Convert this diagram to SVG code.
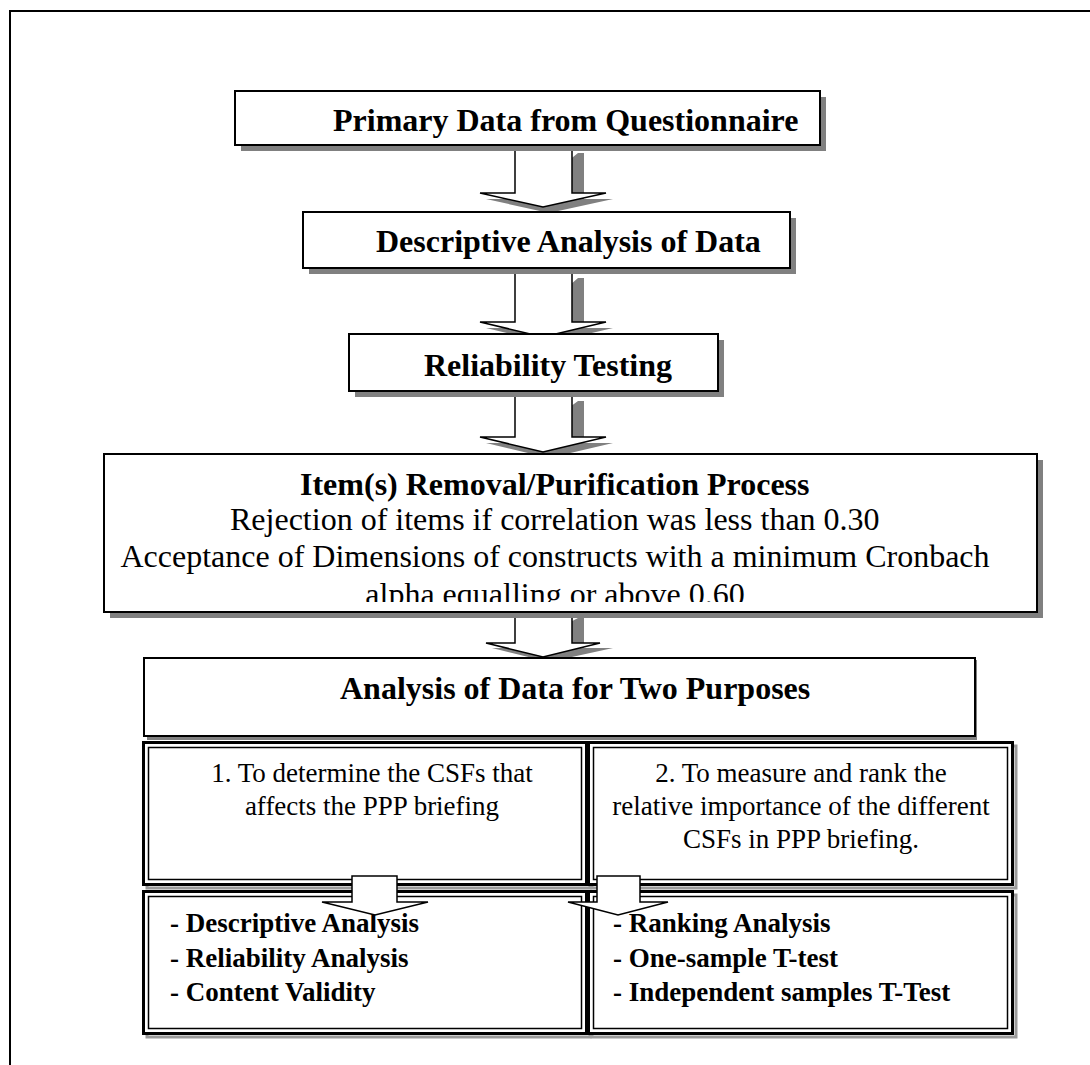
<svg xmlns="http://www.w3.org/2000/svg" width="1090" height="1065" viewBox="0 0 1090 1065">
  <style>
    .box { fill: #ffffff; stroke: #000000; stroke-width: 2; }
    .shadow { fill: #808080; }
    .arrow { fill: #ffffff; stroke: #000000; stroke-width: 1.5; stroke-linejoin: miter; }
    .ashadow { fill: #808080; }
    .frame { fill: none; stroke: #000000; stroke-width: 2; }
    .thick { fill: none; stroke: #000000; stroke-width: 3; }
    .thin { fill: none; stroke: #000000; stroke-width: 1.5; }
    .dshadow { fill: none; stroke: #9a9a9a; stroke-width: 3; }
    .head { font-family: "Liberation Serif", "Times New Roman", serif; font-weight: bold; font-size: 32px; fill: #000000; }
    .body { font-family: "Liberation Serif", "Times New Roman", serif; font-size: 32px; fill: #000000; }
    .small { font-family: "Liberation Serif", "Times New Roman", serif; font-size: 27px; fill: #000000; text-anchor: middle; }
    .list { font-family: "Liberation Serif", "Times New Roman", serif; font-weight: bold; font-size: 27px; fill: #000000; }
    .mid { text-anchor: middle; }
  </style>
  <defs>
    <!-- the last line of the purification box is cut off by its frame -->
    <clipPath id="clipPurify">
      <rect x="105" y="455" width="931" height="147"/>
    </clipPath>
  </defs>

  <rect width="1090" height="1065" fill="#ffffff"/>

  <!-- page frame (top and left rules) -->
  <path class="frame" d="M1090,11 H10 V1065"/>

  <!-- block arrows between stages -->
  <g id="connectors">
    <path class="ashadow" d="M578,153 H584 V199 H613 L549,213 L486,199 H521 Z"/>
    <path class="arrow" d="M515,147 H572 V193 H606 L543,207 L480,193 H515 Z"/>

    <path class="ashadow" d="M578,278 H584 V328 H613 L549,343 L486,328 H521 Z"/>
    <path class="arrow" d="M515,272 H572 V322 H606 L543,337 L480,322 H515 Z"/>

    <path class="ashadow" d="M578,401 H584 V443 H613 L549,458 L486,443 H521 Z"/>
    <path class="arrow" d="M515,395 H572 V437 H606 L543,452 L480,437 H515 Z"/>

    <path class="ashadow" d="M578,618 H584 V648 H613 L549,662 L492,648 H521 Z"/>
    <path class="arrow" d="M515,613 H572 V643 H600 L543,657 L486,643 H515 Z"/>
  </g>

  <!-- stage 1 -->
  <g id="primary-data">
    <rect class="shadow" x="241" y="97" width="585" height="54"/>
    <rect class="box" x="235" y="91" width="585" height="54"/>
    <text class="head" x="333" y="131">Primary Data from Questionnaire</text>
  </g>

  <!-- stage 2 -->
  <g id="descriptive-analysis">
    <rect class="shadow" x="309" y="218" width="487" height="56"/>
    <rect class="box" x="303" y="212" width="487" height="56"/>
    <text class="head" x="376" y="252">Descriptive Analysis of Data</text>
  </g>

  <!-- stage 3 -->
  <g id="reliability-testing">
    <rect class="shadow" x="355" y="340" width="369" height="57"/>
    <rect class="box" x="349" y="334" width="369" height="57"/>
    <text class="head mid" x="548" y="376">Reliability Testing</text>
  </g>

  <!-- stage 4: purification -->
  <g id="purification">
    <rect class="shadow" x="110" y="460" width="933" height="158"/>
    <rect class="box" x="104" y="454" width="933" height="158"/>
    <g clip-path="url(#clipPurify)">
      <text class="head" x="300" y="495">Item(s) Removal/Purification Process</text>
      <text class="body" x="230" y="530">Rejection of items if correlation was less than 0.30</text>
      <text class="body mid" x="555" y="567">Acceptance of Dimensions of constructs with a minimum Cronbach</text>
      <text class="body mid" x="555" y="605">alpha equalling or above 0.60</text>
    </g>
  </g>

  <!-- stage 5: two purposes -->
  <g id="two-purposes">
    <rect class="shadow" x="147" y="660" width="830" height="80"/>
    <rect class="box" x="144" y="658" width="831" height="78"/>
    <text class="head" x="340" y="699">Analysis of Data for Two Purposes</text>
  </g>

  <!-- purpose 1 -->
  <g id="purpose-1">
    <rect class="dshadow" x="147" y="746" width="443" height="142"/>
    <rect fill="#ffffff" stroke="none" x="143" y="742" width="443" height="142"/>
    <rect class="thick" x="143.5" y="742.5" width="443" height="142"/>
    <rect class="thin" x="148.5" y="747.5" width="433" height="132"/>
    <text class="small" x="372" y="782">1. To determine the CSFs that</text>
    <text class="small" x="372" y="815">affects the PPP briefing</text>
  </g>

  <!-- purpose 2 -->
  <g id="purpose-2">
    <rect class="dshadow" x="592" y="746" width="424" height="142"/>
    <rect fill="#ffffff" stroke="none" x="588" y="742" width="424" height="142"/>
    <rect class="thick" x="588.5" y="742.5" width="424" height="142"/>
    <rect class="thin" x="593.5" y="747.5" width="414" height="132"/>
    <text class="small" x="801" y="782">2. To measure and rank the</text>
    <text class="small" x="801" y="815">relative importance of the different</text>
    <text class="small" x="801" y="848">CSFs in PPP briefing.</text>
  </g>

  <!-- methods for purpose 1 -->
  <g id="methods-1">
    <rect class="dshadow" x="147" y="895" width="443" height="142"/>
    <rect fill="#ffffff" stroke="none" x="143" y="891" width="443" height="142"/>
    <rect class="thick" x="143.5" y="891.5" width="443" height="142"/>
    <rect class="thin" x="148.5" y="896.5" width="433" height="132"/>
    <text class="list" x="170" y="932">- Descriptive Analysis</text>
    <text class="list" x="170" y="967">- Reliability Analysis</text>
    <text class="list" x="170" y="1001">- Content Validity</text>
  </g>

  <!-- methods for purpose 2 -->
  <g id="methods-2">
    <rect class="dshadow" x="592" y="895" width="424" height="142"/>
    <rect fill="#ffffff" stroke="none" x="588" y="891" width="424" height="142"/>
    <rect class="thick" x="588.5" y="891.5" width="424" height="142"/>
    <rect class="thin" x="593.5" y="896.5" width="414" height="132"/>
    <text class="list" x="613" y="932">- Ranking Analysis</text>
    <text class="list" x="613" y="967">- One-sample T-test</text>
    <text class="list" x="613" y="1001">- Independent samples T-Test</text>
  </g>

  <!-- small arrows from purposes to methods -->
  <g id="connectors-lower">
    <path class="arrow" d="M352,876 H397 V902 H428 L375,915 L322,902 H352 Z"/>
    <path class="arrow" d="M597,876 H640 V902 H668 L618,915 L568,902 H597 Z"/>
  </g>
</svg>
